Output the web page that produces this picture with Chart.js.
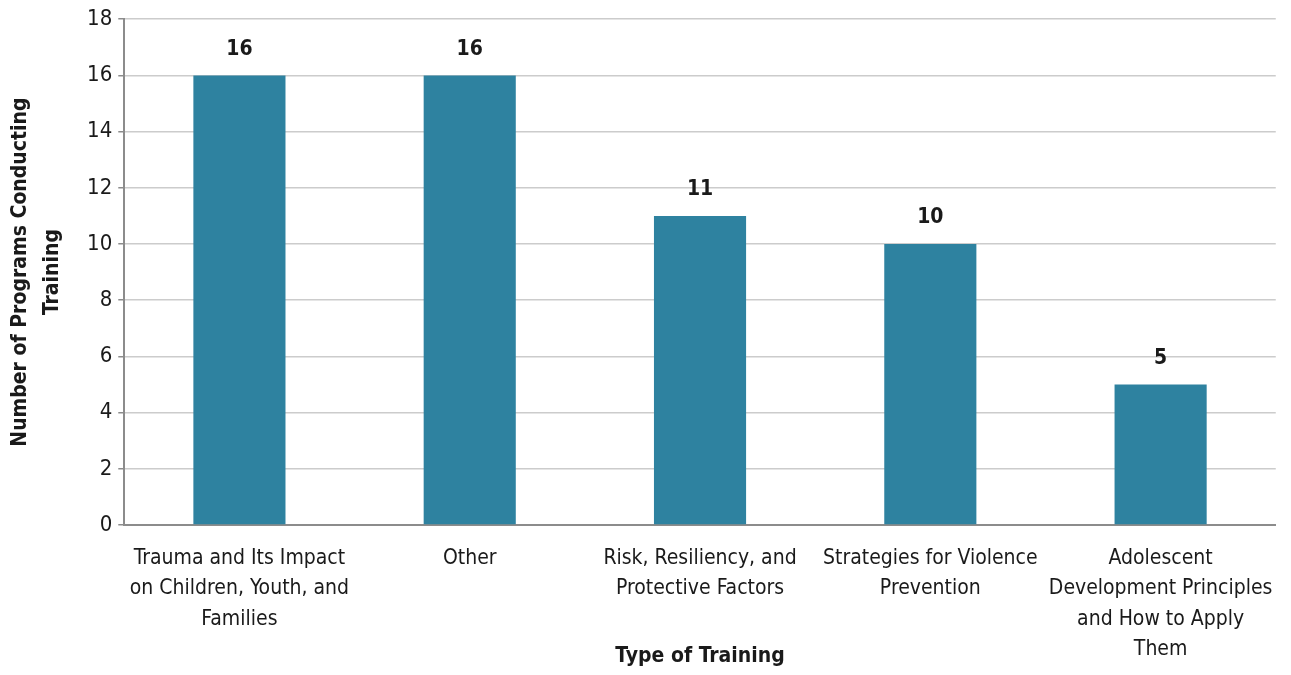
<!DOCTYPE html>
<html>
<head>
<meta charset="utf-8">
<script src="https://cdn.jsdelivr.net/npm/chart.js@4/dist/chart.umd.min.js"></script>
<style>
  html, body { margin: 0; padding: 0; background: #fff; }
  #wrap { width: 1291px; height: 675px; position: relative; }
</style>
</head>
<body>
<div id="wrap"><canvas id="barChart"></canvas></div>
<script>
// data
const categories = [
    ['Trauma and Its Impact', 'on Children, Youth, and', 'Families'],
    ['Other'],
    ['Risk, Resiliency, and', 'Protective Factors'],
    ['Strategies for Violence', 'Prevention'],
    ['Adolescent', 'Development Principles', 'and How to Apply', 'Them']
];
const programCounts = [16, 16, 11, 10, 5];
const yTicks = [0, 2, 4, 6, 8, 10, 12, 14, 16, 18];

const fontFamily = '"Liberation Sans Narrow", "DejaVu Sans Condensed", "Arial Narrow", sans-serif';

// label di atas bar
const valueLabels = {
    id: 'valueLabels',
    afterDatasetsDraw(chart) {
        const ctx = chart.ctx;
        const meta = chart.getDatasetMeta(0);
        ctx.save();
        ctx.font = 'bold 21px ' + fontFamily;
        ctx.fillStyle = '#1a1a1a';
        ctx.textAlign = 'center';
        ctx.textBaseline = 'middle';
        meta.data.forEach(function(bar, i) {
            ctx.fillText(programCounts[i], bar.x, bar.y - 26);
        });
        ctx.restore();
    }
};

const config = {
    type: 'bar',
    data: {
        labels: categories,
        datasets: [{
            data: programCounts,
            backgroundColor: '#2E82A0',
            barPercentage: 0.4,
            categoryPercentage: 1.0
        }]
    },
    options: {
        responsive: true,
        maintainAspectRatio: false,
        animation: false,
        layout: { padding: { left: 4, right: 6, top: 8, bottom: 0 } },
        plugins: {
            legend: { display: false },
            tooltip: { enabled: false }
        },
        scales: {
            x: {
                grid: { display: false, drawTicks: false },
                border: { color: '#8c8c8c', width: 2 },
                ticks: {
                    color: '#1a1a1a',
                    font: { family: fontFamily, size: 21, lineHeight: 1.45 },
                    maxRotation: 0,
                    autoSkip: false,
                    padding: 18
                },
                title: {
                    display: true,
                    text: 'Type of Training',
                    color: '#1a1a1a',
                    font: { family: fontFamily, size: 21, weight: 'bold' },
                    padding: { top: 0, bottom: 6 }
                },
                afterFit(scale) { scale.height = 150; }
            },
            y: {
                min: 0,
                max: 18,
                afterBuildTicks(scale) {
                    scale.ticks = yTicks.map(v => ({ value: v }));
                },
                grid: { color: '#cccccc', lineWidth: 1.5, tickLength: 6, tickColor: '#8c8c8c' },
                border: { color: '#8c8c8c', width: 2 },
                ticks: {
                    color: '#1a1a1a',
                    font: { family: fontFamily, size: 22 },
                    padding: 6
                },
                title: {
                    display: true,
                    text: ['Number of Programs Conducting', 'Training'],
                    color: '#1a1a1a',
                    font: { family: fontFamily, size: 21, weight: 'bold', lineHeight: 1.55 },
                    padding: { top: 0, bottom: 12 }
                }
            }
        }
    },
    plugins: [valueLabels]
};

function createBarChart() {
    const chartCanvas = document.getElementById('barChart');
    if (chartCanvas) {
        const myChart = new Chart(chartCanvas, config);
    }
}

window.addEventListener('load', createBarChart);
</script>
</body>
</html>
